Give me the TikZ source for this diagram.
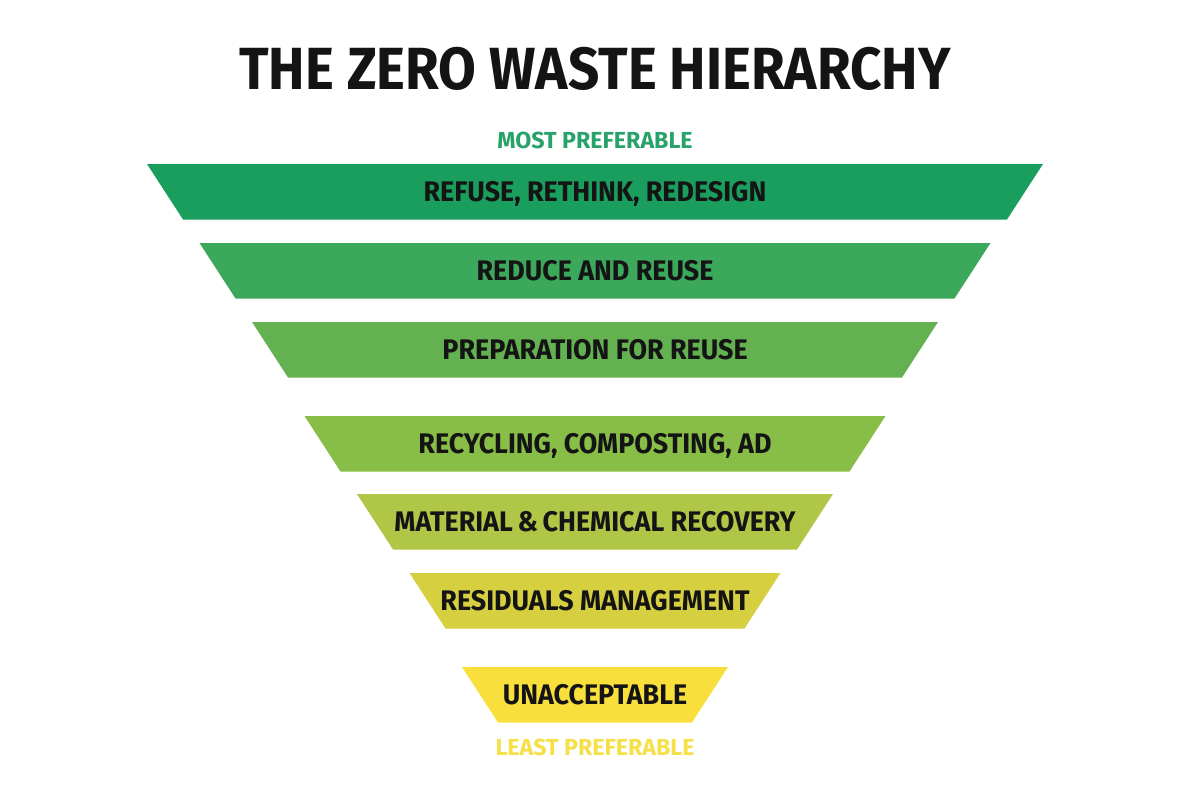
\documentclass[tikz,border=0pt]{standalone}
\usepackage{fontspec}
\setmainfont{Fira Sans}
\newfontfamily\zwtitlefont{Fira Sans}[FakeStretch=0.92]
\newfontfamily\zwbandfont{Fira Sans}[FakeStretch=0.95]
\newfontfamily\zwsidefont{Fira Sans}[FakeStretch=1.0]
\definecolor{cA}{HTML}{1A9E5E}
\definecolor{cB}{HTML}{3CA85B}
\definecolor{cC}{HTML}{63B150}
\definecolor{cD}{HTML}{88BE48}
\definecolor{cE}{HTML}{AFC646}
\definecolor{cF}{HTML}{D6CF40}
\definecolor{cG}{HTML}{F8DF3B}
\definecolor{mostc}{HTML}{27A369}
\definecolor{leastc}{HTML}{F6E048}
\tikzset{
  bandlabel/.style={anchor=base, inner sep=0pt, text=black!92,
    font=\zwbandfont\fontsize{28.3}{30}\selectfont\bfseries},
  sidelabel/.style={anchor=base, inner sep=0pt,
    font=\zwsidefont\fontsize{23.2}{25}\selectfont\bfseries},
  titlelabel/.style={anchor=base, inner sep=0pt, text=black!92,
    font=\zwtitlefont\fontsize{59.5}{62}\selectfont\bfseries}
}
% \zwband{name}{ytop}{halftop}{colour}{text}
\newcommand{\zwband}[5]{%
  \fill[#4] (595-#3,#2) -- (595+#3,#2) -- (595+#3-36,#2+55.5) -- (595-#3+36,#2+55.5) -- cycle;
  \node[bandlabel] (#1) at (595,#2+27.75+9.75) {#5};
}
\begin{document}
\begin{tikzpicture}[x=1pt,y=-1pt]
\useasboundingbox (0,0) rectangle (1200,800);
\fill[white] (0,0) rectangle (1200,800);
\node[titlelabel] (title) at (595,89) {THE ZERO WASTE HIERARCHY};
\node[sidelabel, text=mostc] (most) at (595,148) {MOST PREFERABLE};
\zwband{b1}{164}{448}{cA}{REFUSE, RETHINK, REDESIGN}
\zwband{b2}{243}{395.5}{cB}{REDUCE AND REUSE}
\zwband{b3}{322}{343}{cC}{PREPARATION FOR REUSE}
\zwband{b4}{416}{290.5}{cD}{RECYCLING, COMPOSTING, AD}
\zwband{b5}{494}{238}{cE}{MATERIAL\,\&\,CHEMICAL RECOVERY}
\zwband{b6}{573}{185.5}{cF}{RESIDUALS MANAGEMENT}
\zwband{b7}{667}{133}{cG}{UNACCEPTABLE}
\node[sidelabel, text=leastc] (least) at (595,755) {LEAST PREFERABLE};
\end{tikzpicture}
\end{document}
